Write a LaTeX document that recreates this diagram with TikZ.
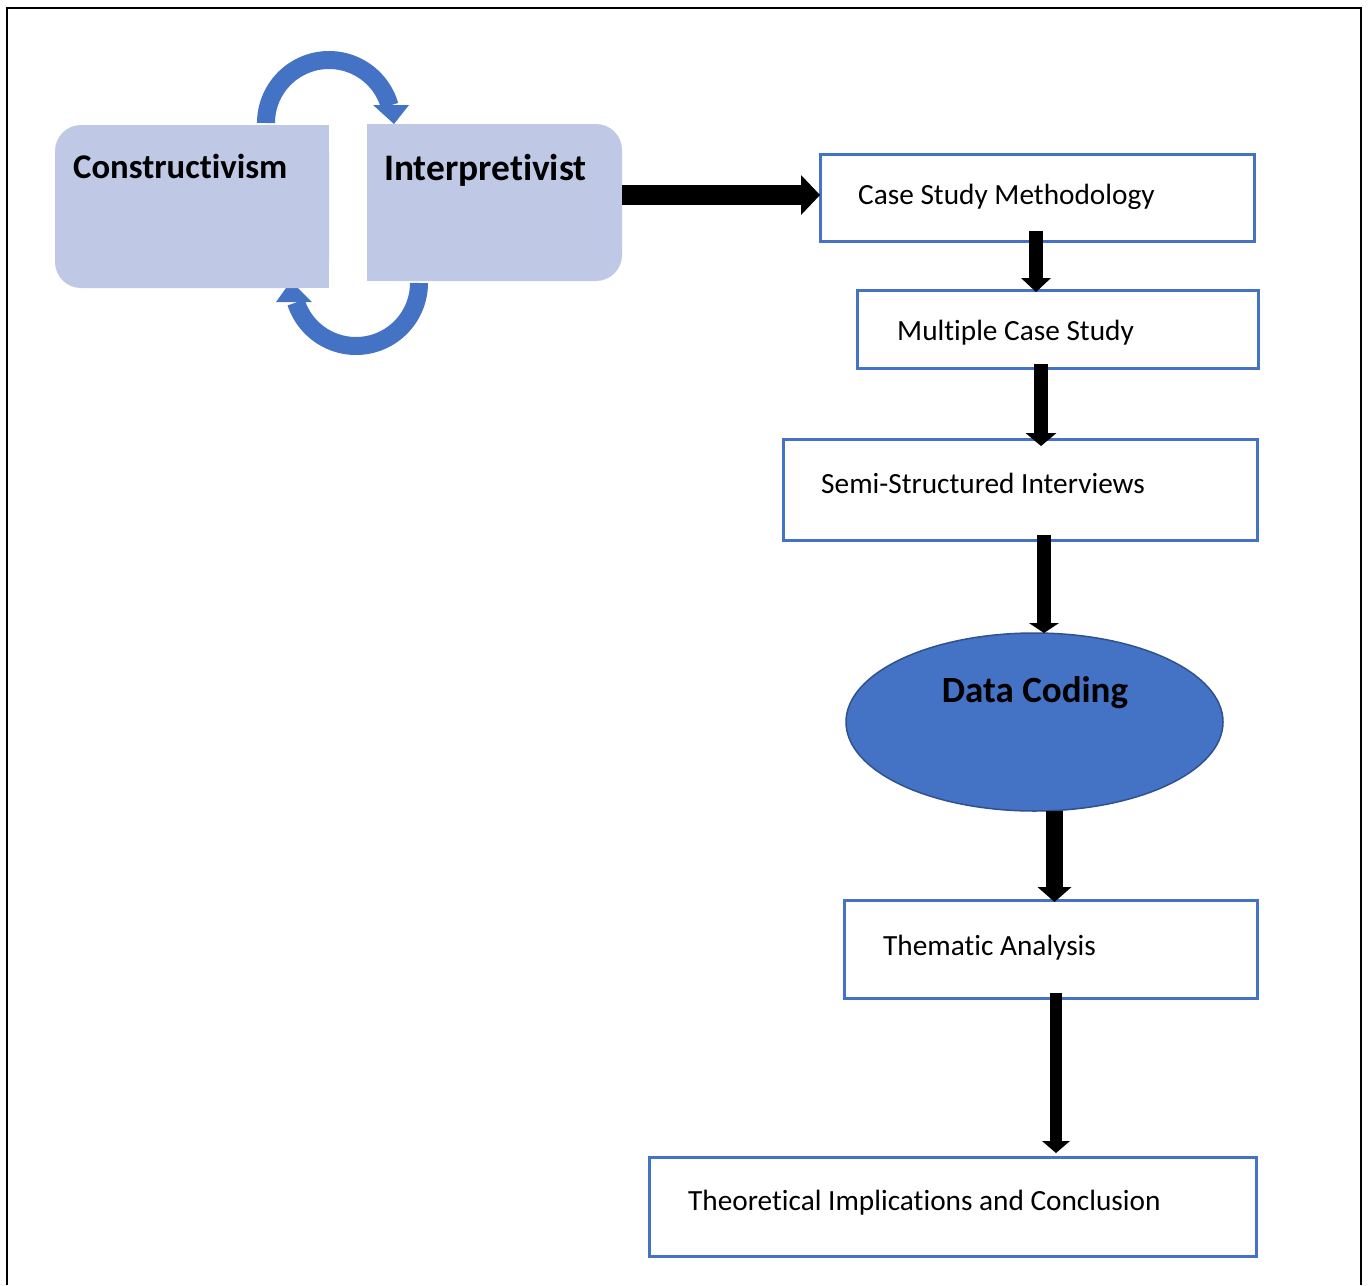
\documentclass[tikz,border=0pt]{standalone}
\usepackage{fontspec}
\setmainfont{Carlito}[Ligatures=NoCommon]
\usetikzlibrary{arrows.meta,shapes.geometric}
\definecolor{accblue}{HTML}{4472C4}
\definecolor{darkblue}{HTML}{2F528F}
\definecolor{lightfill}{RGB}{191,200,228}
\begin{document}
\begin{tikzpicture}[x=1pt,y=-1pt,
  flowbox/.style={draw=accblue,line width=3pt,fill=white,inner sep=0,outer sep=0},
  holder/.style={inner sep=0,outer sep=0},
  plain/.style={anchor=base west,inner sep=0,font=\fontsize{29.3}{35}\selectfont},
  fat/.style n args={3}{line width=#1pt,arrows={-Triangle[width=#2pt,length=#3pt,line width=0pt]}},
  looparc/.style={draw=accblue,line width=18pt,line cap=butt}]
\useasboundingbox (0,0) rectangle (1370,1285);
% frame
\draw[line width=1.5pt] (7,1285) -- (7,8) -- (1361,8) -- (1361,1285);

% loop arcs
\draw[looparc] plot[domain=180:344,samples=60] ({329+63*cos(\x)},{123+63*sin(\x)});
\fill[accblue] (373,105) -- (409,105) -- (394,124) -- cycle;
\draw[looparc] plot[domain=0:162,samples=60] ({356+63*cos(\x)},{283+63*sin(\x)});
\fill[accblue] (276,302) -- (312,302) -- (291,281) -- cycle;

% paradigm boxes
\node[holder,minimum width=274pt,minimum height=163pt] (con) at (192,206.5) {};
\fill[lightfill,rounded corners=26pt] (con.north west) rectangle (con.south east);
\fill[lightfill] (con.north) rectangle (con.south east);
\node[holder,minimum width=255pt,minimum height=157pt] (ip) at (494.5,202.5) {};
\fill[lightfill,rounded corners=26pt] (ip.north west) rectangle (ip.south east);
\fill[lightfill] (ip.north west) rectangle (ip.south);
\node[anchor=base west,inner sep=0,font=\fontsize{34.7}{41}\selectfont\bfseries] (cont) at (73,178) {Constructivism};
\node[anchor=base west,inner sep=0,font=\fontsize{37.4}{44}\selectfont\bfseries] (ipt) at (384,180) {Interpretivist};

% flow boxes
\node[flowbox,minimum width=434pt,minimum height=87pt] (cs) at (1037,197.5) {};
\node[flowbox,minimum width=401pt,minimum height=78pt] (mcs) at (1057.5,329) {};
\node[flowbox,minimum width=474pt,minimum height=101pt] (ssi) at (1020,489.5) {};
\node[ellipse,fill=accblue,draw=darkblue,line width=1.5pt,inner sep=0,outer sep=0,
      minimum width=377pt,minimum height=178pt] (dc) at (1034.5,722) {};
\node[flowbox,minimum width=413pt,minimum height=98pt] (ta) at (1050.5,949) {};
\node[flowbox,minimum width=607pt,minimum height=99pt] (tic) at (952.5,1206.5) {};

\node[plain] (cst) at (858,204) {Case Study Methodology};
\node[plain] (mcst) at (897,340) {Multiple Case Study};
\node[plain] (ssit) at (821,493) {Semi-Structured Interviews};
\node[anchor=base,inner sep=0,font=\fontsize{37}{43}\selectfont\bfseries] (dct) at (1035,702) {Data Coding};
\node[plain] (tat) at (883,955) {Thematic Analysis};
\node[plain] (tict) at (688,1210) {Theoretical Implications and Conclusion};

% connectors
\draw[fat={20}{40}{19}] ([yshift=7.5pt]ip.east) -- ([yshift=2.5pt]cs.west);
\draw[fat={14}{30}{14}] ([xshift=-1pt,yshift=10pt]cs.south) -- ([xshift=-21.5pt,yshift=-2pt]mcs.north);
\draw[fat={14}{31}{13}] ([xshift=-16.5pt,yshift=4pt]mcs.south) -- ([xshift=21pt,yshift=-7pt]ssi.north);
\draw[fat={14}{30}{10}] ([xshift=24pt,yshift=5pt]ssi.south) -- ([xshift=9.5pt]dc.north);
\draw[fat={17}{34}{15}] ([xshift=20pt]dc.south) -- ([xshift=4pt,yshift=-2pt]ta.north);
\draw[fat={12}{28}{12}] ([xshift=5.5pt,yshift=5pt]ta.south) -- ([xshift=103.5pt,yshift=4pt]tic.north);
\end{tikzpicture}
\end{document}
